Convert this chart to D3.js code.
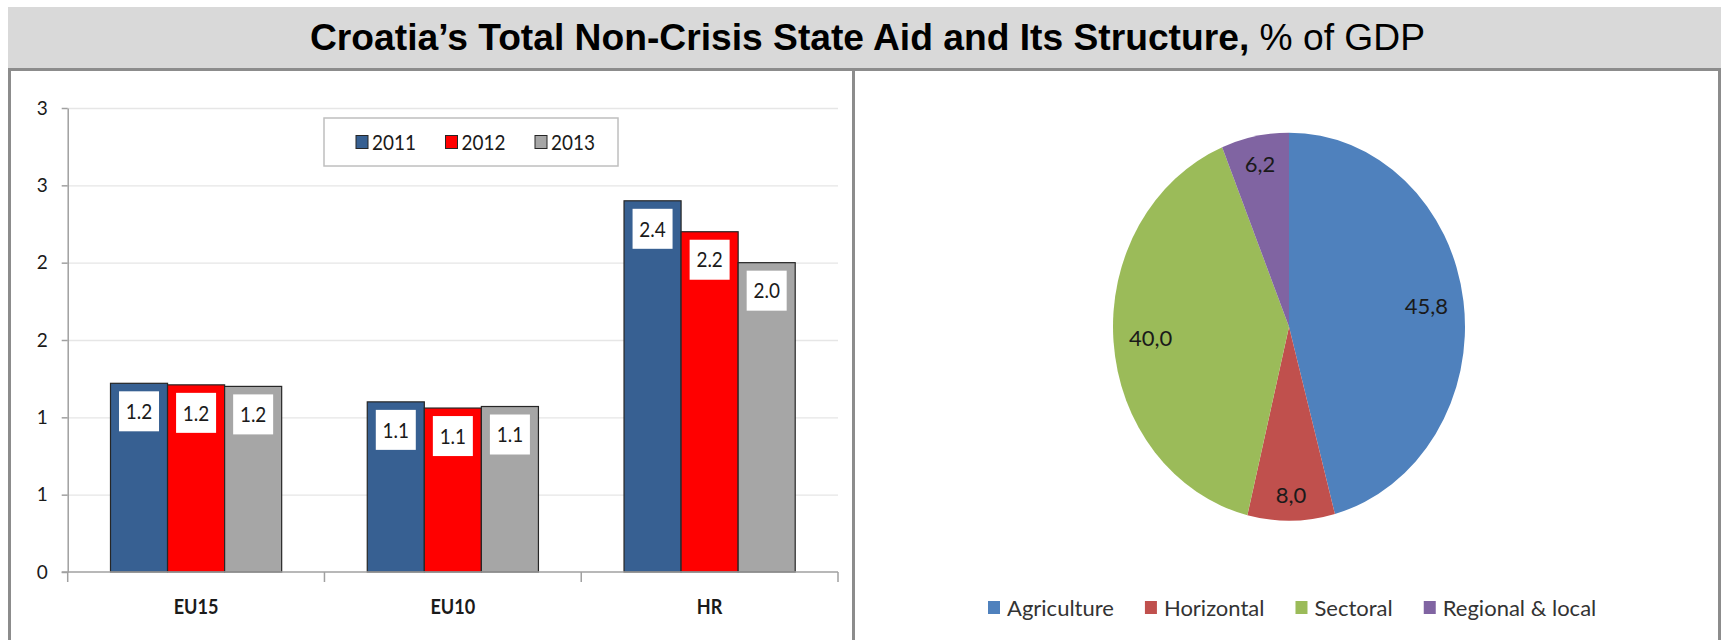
<!DOCTYPE html>
<html>
<head>
<meta charset="utf-8">
<script src="https://cdn.jsdelivr.net/npm/d3@7"></script>
<style>
  html, body { margin: 0; padding: 0; background: #ffffff; }
  svg { display: block; }
</style>
</head>
<body>
<svg id="chart" width="1723" height="640"></svg>
<script>
// ---- Data ----------------------------------------------------------------
const categories = ["EU15", "EU10", "HR"];
const years = ["2011", "2012", "2013"];
const aid2011 = [1.22, 1.10, 2.40];
const aid2012 = [1.21, 1.06, 2.20];
const aid2013 = [1.20, 1.07, 2.00];
const yTickValues = [0, 0.5, 1, 1.5, 2, 2.5, 3];
const yTickLabels = ["0", "1", "1", "2", "2", "3", "3"];

const sectors = ["Agriculture", "Horizontal", "Sectoral", "Regional & local"];
const sectorShares = [45.8, 8.0, 40.0, 6.2];

// ---- Styling -------------------------------------------------------------
const yearColors = ["#376092", "#ff0000", "#a6a6a6"];
const sectorColors = ["#4f81bd", "#c0504d", "#9bbb59", "#8064a2"];
const chartFont = "Lato, 'Open Sans', sans-serif";
const frameColor = "#8c8c8c";

// Narrows text horizontally to mimic a condensed face
function condense(sel, factor) {
  sel.each(function () {
    const w = this.getComputedTextLength();
    d3.select(this).attr("textLength", w * factor).attr("lengthAdjust", "spacingAndGlyphs");
  });
}

const svg = d3.select("#chart");

// ---- Title bar and panel frames ------------------------------------------
svg.append("rect")
  .attr("x", 8).attr("y", 7).attr("width", 1713).attr("height", 62)
  .attr("fill", "#d9d9d9");

const title = svg.append("text")
  .attr("x", 310).attr("y", 50)
  .attr("textLength", 1115)
  .attr("lengthAdjust", "spacingAndGlyphs")
  .attr("font-family", "'Liberation Sans', Arial, sans-serif")
  .attr("font-size", 36)
  .attr("fill", "#000");
title.append("tspan").attr("font-weight", "bold")
  .text("Croatia\u2019s Total Non-Crisis State Aid and Its Structure,");
title.append("tspan").text(" % of GDP");

const frame = svg.append("g").attr("stroke", frameColor).attr("stroke-width", 3);
frame.append("line").attr("x1", 8).attr("x2", 1721).attr("y1", 69.5).attr("y2", 69.5);
[9.5, 853.5, 1719.5].forEach(x =>
  frame.append("line").attr("x1", x).attr("x2", x).attr("y1", 68).attr("y2", 640));

// ---- Left panel: grouped bar chart ---------------------------------------
const plot = { left: 67.7, right: 838, top: 108, bottom: 572 };
const series = [aid2011, aid2012, aid2013];

const x0 = d3.scaleBand().domain(categories).range([plot.left, plot.right]).padding(0);
const x1 = d3.scaleBand().domain(years).range([0, x0.bandwidth()])
  .paddingInner(0).paddingOuter(0.75);
const y = d3.scaleLinear().domain([0, 3]).range([plot.bottom, plot.top]);

const axisColor = "#a0a0a0";

// Horizontal gridlines
svg.append("g")
  .attr("transform", `translate(${plot.left},0)`)
  .call(d3.axisLeft(y).tickValues(yTickValues.slice(1))
    .tickSize(-(plot.right - plot.left)).tickFormat(""))
  .call(g => g.select(".domain").remove())
  .call(g => g.selectAll(".tick line").attr("stroke", "#e6e6e6").attr("stroke-width", 1.3));

// Bars
const bars = svg.append("g");
categories.forEach((cat, ci) => {
  years.forEach((yr, si) => {
    const v = series[si][ci];
    bars.append("rect")
      .attr("x", x0(cat) + x1(yr))
      .attr("y", y(v))
      .attr("width", x1.bandwidth())
      .attr("height", y(0) - y(v))
      .attr("fill", yearColors[si])
      .attr("stroke", "#262626")
      .attr("stroke-width", 1.2);
  });
});

// Value labels in white boxes
const fmtBar = d3.format(".1f");
const labels = svg.append("g");
categories.forEach((cat, ci) => {
  years.forEach((yr, si) => {
    const v = series[si][ci];
    const cx = x0(cat) + x1(yr) + x1.bandwidth() / 2;
    const top = y(v) + 8;
    labels.append("rect")
      .attr("x", cx - 20).attr("y", top)
      .attr("width", 40).attr("height", 40)
      .attr("fill", "#ffffff");
    labels.append("text")
      .attr("x", cx).attr("y", top + 20)
      .attr("dy", "0.35em")
      .attr("text-anchor", "middle")
      .attr("font-family", chartFont)
      .attr("font-size", 22)
      .attr("fill", "#1a1a1a")
      .text(fmtBar(v))
      .call(condense, 0.86);
  });
});

// Y axis
svg.append("g")
  .attr("transform", `translate(${plot.left},0)`)
  .call(d3.axisLeft(y).tickValues(yTickValues)
    .tickFormat((d, i) => yTickLabels[i])
    .tickSize(6).tickSizeOuter(0).tickPadding(14))
  .call(g => g.select(".domain").attr("stroke", axisColor).attr("stroke-width", 1.5))
  .call(g => g.selectAll(".tick line").attr("stroke", axisColor).attr("stroke-width", 1.5))
  .call(g => g.selectAll(".tick text")
    .attr("font-family", chartFont).attr("font-size", 19).attr("fill", "#1a1a1a"));

// X axis with category dividers
svg.append("g")
  .attr("transform", `translate(0,${plot.bottom})`)
  .call(d3.axisBottom(x0).tickSize(0).tickPadding(27))
  .call(g => g.select(".domain").remove())
  .call(g => g.selectAll(".tick text")
    .attr("font-family", chartFont).attr("font-size", 21)
    .attr("font-weight", "bold").attr("fill", "#1a1a1a")
    .call(condense, 0.86));

const xAxisLine = svg.append("g").attr("stroke", axisColor).attr("stroke-width", 1.5);
xAxisLine.append("line")
  .attr("x1", plot.left - 6).attr("x2", plot.right)
  .attr("y1", plot.bottom).attr("y2", plot.bottom);
categories.concat([null]).forEach(cat => {
  const xb = cat === null ? x0.range()[1] : x0(cat);
  xAxisLine.append("line")
    .attr("x1", xb).attr("x2", xb)
    .attr("y1", plot.bottom).attr("y2", plot.bottom + 10);
});

// Legend for years
const legend = svg.append("g");
legend.append("rect")
  .attr("x", 324).attr("y", 118).attr("width", 294).attr("height", 48)
  .attr("fill", "#ffffff").attr("stroke", "#bfbfbf").attr("stroke-width", 1.5);
years.forEach((yr, i) => {
  const lx = 356 + i * 89.5;
  legend.append("rect")
    .attr("x", lx).attr("y", 135.5).attr("width", 12).attr("height", 13)
    .attr("fill", yearColors[i]).attr("stroke", "#262626").attr("stroke-width", 1);
  legend.append("text")
    .attr("x", lx + 16).attr("y", 142)
    .attr("dy", "0.35em")
    .attr("font-family", chartFont).attr("font-size", 22).attr("fill", "#1a1a1a")
    .text(yr)
    .call(condense, 0.86);
});

// ---- Right panel: structure pie ------------------------------------------
const pieCx = 1289, pieCy = 326.7, rx = 176, ry = 194;
const pie = d3.pie().sort(null).value(d => d)(sectorShares);
const arc = d3.arc().innerRadius(0).outerRadius(rx);

svg.append("g")
  .attr("transform", `translate(${pieCx},${pieCy}) scale(1,${ry / rx})`)
  .selectAll("path")
  .data(pie)
  .join("path")
  .attr("d", arc)
  .attr("fill", (d, i) => sectorColors[i]);

// Slice labels placed just inside the rim along each slice's mid-angle
const commaLocale = d3.formatLocale({ decimal: ",", thousands: ".", grouping: [3], currency: ["", ""] });
const fmtPie = commaLocale.format(".1f");
const pieLabels = svg.append("g");
pie.forEach(d => {
  const t = pieLabels.append("text")
    .attr("text-anchor", "middle")
    .attr("dy", "0.35em")
    .attr("font-family", chartFont).attr("font-size", 22).attr("fill", "#1a1a1a")
    .text(fmtPie(d.value));
  const w = t.node().getComputedTextLength();
  const hw = w / 2 / rx, hh = 8 / ry;
  const a = (d.startAngle + d.endAngle) / 2;
  const ux = Math.sin(a), uy = -Math.cos(a);
  const reach = f => {
    const cx = f * ux, cy = f * uy;
    const px = cx + Math.sign(cx) * hw, py = cy + Math.sign(cy) * hh;
    return Math.hypot(px, py);
  };
  let lo = 0, hi = 1;
  for (let k = 0; k < 40; k++) {
    const mid = (lo + hi) / 2;
    if (reach(mid) < 0.915) lo = mid; else hi = mid;
  }
  t.attr("x", pieCx + lo * ux * rx).attr("y", pieCy + lo * uy * ry);
});

// Sector legend
const sLegend = svg.append("g");
let lx = 988;
sectors.forEach((s, i) => {
  sLegend.append("rect")
    .attr("x", lx).attr("y", 601).attr("width", 12).attr("height", 13)
    .attr("fill", sectorColors[i]);
  const t = sLegend.append("text")
    .attr("x", lx + 19).attr("y", 608)
    .attr("dy", "0.35em")
    .attr("font-family", chartFont).attr("font-size", 22).attr("fill", "#333333")
    .text(s);
  lx += 19 + t.node().getComputedTextLength() + 31;
});
</script>
</body>
</html>
